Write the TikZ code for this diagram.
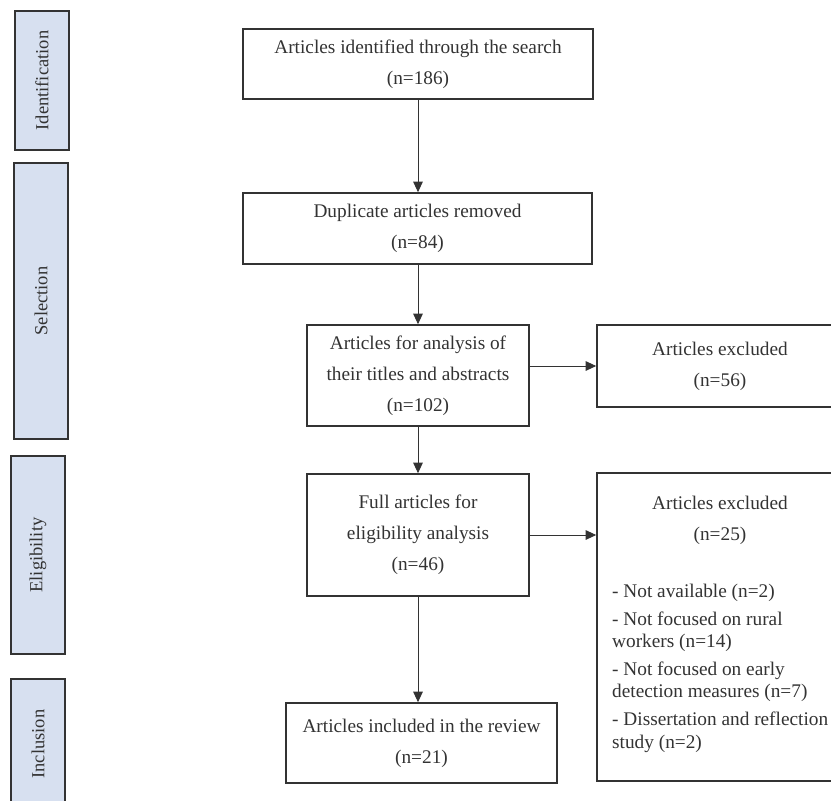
\documentclass[tikz,border=0pt]{standalone}
\usepackage{fontspec}
\setmainfont{Liberation Serif}
\usetikzlibrary{arrows.meta}
\definecolor{phasefill}{HTML}{D7E0F0}
\definecolor{ink}{HTML}{333333}
\begin{document}
\begin{tikzpicture}[x=1pt,y=-1pt,
  box/.style={draw=ink, line width=1.6pt, fill=white, text=ink, align=center,
    font=\fontsize{19.3}{31}\selectfont, inner sep=0pt},
  phase/.style={draw=ink, line width=1.6pt, fill=phasefill, text=ink,
    font=\fontsize{18.5}{21}\selectfont, rotate=90, inner sep=0pt},
  arr/.style={draw=ink, line width=1pt, -{Triangle[length=10.5pt,width=9.5pt]}},
  txt/.style={text=ink, align=center, font=\fontsize{19.3}{31}\selectfont, inner sep=0pt},
  item/.style={text=ink, font=\fontsize{19.3}{22.5}\selectfont, anchor=base west, inner sep=0pt}]
\useasboundingbox (0,0) rectangle (831,801);
\clip (0,0) rectangle (831,801);
\fill[white] (0,0) rectangle (831,801);

% phase boxes
\node[phase, minimum width=139pt, minimum height=54pt] (p1) at (42,80.5) {Identification};
\node[phase, minimum width=276pt, minimum height=54pt] (p2) at (41,301) {Selection};
\node[phase, minimum width=198pt, minimum height=54pt] (p3) at (38,555) {Eligibility};
\node[phase, minimum width=130pt, minimum height=54pt] (p4) at (38,744) {Inclusion};

% main flow
\node[box, minimum width=350pt, minimum height=70pt] (b1) at (418,64) {Articles identified through the search\\(n=186)};
\node[box, minimum width=349pt, minimum height=71pt] (b2) at (417.5,228.5) {Duplicate articles removed\\(n=84)};
\node[box, minimum width=222pt, minimum height=101pt] (b3) at (418,375.5) {Articles for analysis of\\their titles and abstracts\\(n=102)};
\node[box, minimum width=222pt, minimum height=122pt] (b4) at (418,535) {Full articles for\\eligibility analysis\\(n=46)};
\node[box, minimum width=271pt, minimum height=80pt] (b5) at (421.5,743) {Articles included in the review\\(n=21)};

% exclusion boxes
\node[box, minimum width=246pt, minimum height=82pt] (e1) at (720,366) {Articles excluded\\(n=56)};
\node[box, minimum width=246pt, minimum height=308pt] (e2) at (720,627) {};
\node[txt] (e2h) at (720,520) {Articles excluded\\(n=25)};
\node[item] (l1) at (612,597.5) {- Not available (n=2)};
\node[item] (l2) at (612,625.5) {- Not focused on rural};
\node[item] (l3) at (612,647.5) {workers (n=14)};
\node[item] (l4) at (612,675.5) {- Not focused on early};
\node[item] (l5) at (612,697.5) {detection measures (n=7)};
\node[item] (l6) at (612,725.5) {- Dissertation and reflection};
\node[item] (l7) at (612,748.5) {study (n=2)};

% connectors
\draw[arr] (b1.south) -- (b1.south |- b2.north);
\draw[arr] (b3.north |- b2.south) -- (b3.north);
\draw[arr] (b3.south) -- (b4.north);
\draw[arr] (b4.south) -- (b4.south |- b5.north);
\draw[arr] (e1.west -| b3.east) -- (e1.west);
\draw[arr] (b4.east) -- (b4.east -| e2.west);
\end{tikzpicture}
\end{document}
